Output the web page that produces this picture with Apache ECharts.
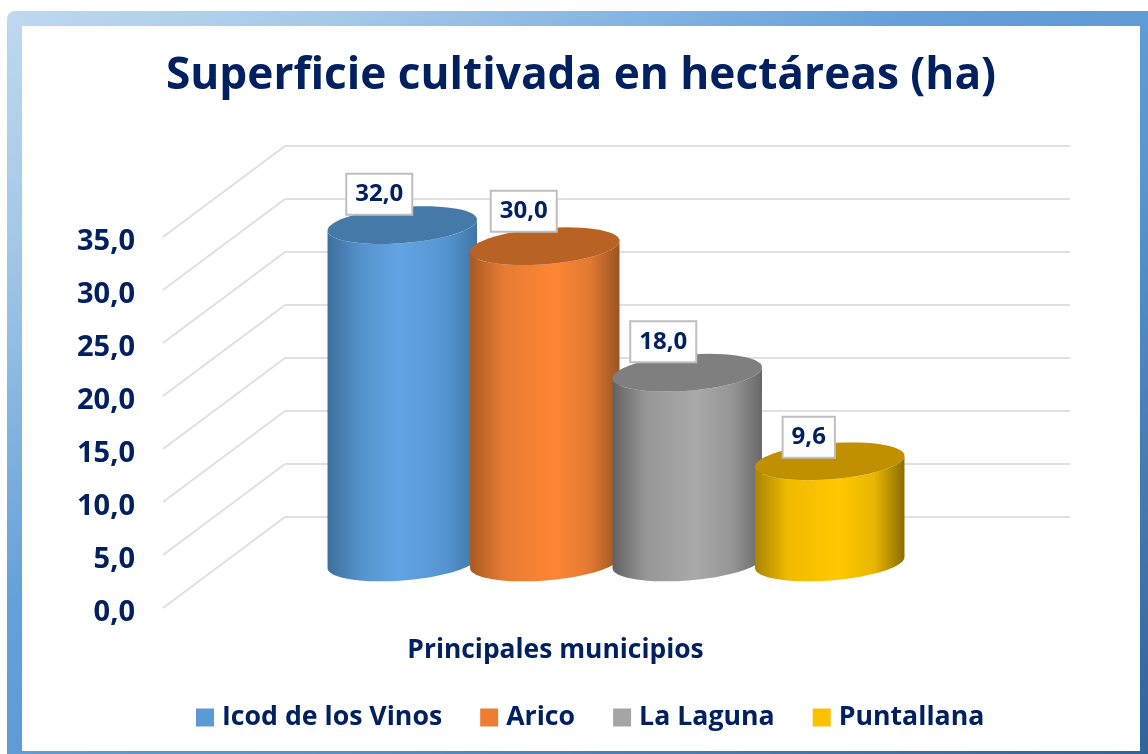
<!DOCTYPE html>
<html>
<head>
<meta charset="utf-8">
<title>Superficie cultivada en hectáreas (ha)</title>
<style>
  html, body { margin: 0; padding: 0; background: #fff; }
  #chart { width: 1148px; height: 754px; }
</style>
<script src="https://cdn.jsdelivr.net/npm/echarts@6/dist/echarts.min.js"></script>
</head>
<body>
<div id="chart"></div>
<script>
var municipios = ["Icod de los Vinos", "Arico", "La Laguna", "Puntallana"];
var superficie = [32.0, 30.0, 18.0, 9.6];
var ticks = [0, 5, 10, 15, 20, 25, 30, 35];

var sideColors = [
  ["#3e6f9b", "#5592cc", "#62a5e5", "#5594d0", "#3f75a5"],
  ["#a85a22", "#e57b33", "#ff8535", "#e27a32", "#9a5422"],
  ["#626262", "#969696", "#a9a9a9", "#959595", "#686868"],
  ["#a98400", "#f0bb00", "#ffc800", "#e9b600", "#8a6c00"]
];
var capColors = ["#457aa8", "#b86224", "#7f7f7f", "#c09000"];
var legendColors = ["#5b9bd5", "#ed7d31", "#a5a5a5", "#ffc000"];
var labelShiftX = [-23, -21, -24, -21];
var labelShiftY = [-31, -35, -31, -24];

var navy = "#002060";
var fontFamily = "'Open Sans', sans-serif";
// depth of the floor, from the back wall to the front edge
var depthX = -122;
var depthY = 91;
var tilt = 0.078;

function fmt(v) {
  return v.toFixed(1).replace(".", ",");
}

// points on a tilted ellipse, angles in radians
function arc(cx, cy, a, b, from, to) {
  var pts = [];
  for (var i = 0; i <= 60; i++) {
    var t = from + (to - from) * i / 60;
    var x = a * Math.cos(t);
    var y = b * Math.sin(t);
    pts.push([
      cx + x * Math.cos(tilt) + y * Math.sin(tilt),
      cy - x * Math.sin(tilt) + y * Math.cos(tilt)
    ]);
  }
  return pts;
}

function cylinder(idx) {
  return function(params, api) {
    var top = api.coord([api.value(0), api.value(1)]);
    var base = api.coord([api.value(0), 0]);
    var a = api.size([1, 0])[0] * 0.526;
    var b = 18;
    var c = sideColors[idx];
    var body = arc(base[0], base[1], a, b, Math.PI, 0)
      .concat(arc(top[0], top[1], a, b, 0, Math.PI));
    return {
      type: "group",
      children: [
        {
          type: "polygon",
          shape: { points: body },
          style: {
            fill: new echarts.graphic.LinearGradient(0, 0, 1, 0, [
              { offset: 0, color: c[0] },
              { offset: 0.22, color: c[1] },
              { offset: idx === 0 ? 0.48 : 0.56, color: c[2] },
              { offset: 0.8, color: c[3] },
              { offset: 1, color: c[4] }
            ])
          }
        },
        {
          type: "polygon",
          shape: { points: arc(top[0], top[1], a, b, 0, Math.PI * 2) },
          style: { fill: capColors[idx] }
        },
        {
          type: "text",
          x: top[0] + labelShiftX[idx],
          y: top[1] + labelShiftY[idx],
          style: {
            text: fmt(api.value(1)),
            font: "bold 24px " + fontFamily,
            fill: navy,
            align: "center",
            verticalAlign: "middle",
            backgroundColor: "#fff",
            borderColor: "#bfbfbf",
            borderWidth: 2,
            padding: [8, 8, 7, 8]
          }
        }
      ]
    };
  };
}

var series = [
  {
    type: "custom",
    name: "pared",
    xAxisIndex: 0,
    yAxisIndex: 0,
    silent: true,
    clip: false,
    data: ticks.map(function(t) { return [0, t]; }),
    renderItem: function(params, api) {
      var p = api.coord([api.value(0), api.value(1)]);
      return {
        type: "line",
        shape: { x1: p[0], y1: p[1], x2: p[0] + depthX, y2: p[1] + depthY },
        style: { stroke: "#e0e0e0", lineWidth: 2 }
      };
    }
  }
];

municipios.forEach(function(name, i) {
  series.push({
    type: "custom",
    name: name,
    xAxisIndex: 2,
    yAxisIndex: 2,
    clip: false,
    z: 3 + i,
    itemStyle: { color: legendColors[i] },
    data: [[i, superficie[i]]],
    renderItem: cylinder(i)
  });
});

var chart = echarts.init(document.getElementById("chart"));
chart.setOption({
  animation: false,
  backgroundColor: "#fff",
  textStyle: { fontFamily: fontFamily },
  graphic: [
    {
      type: "rect",
      z: -10,
      silent: true,
      shape: { x: 7, y: 11, width: 1141, height: 743, r: [8, 0, 0, 0] },
      style: {
        fill: new echarts.graphic.LinearGradient(0, 0, 0.596, 1.405, [
          { offset: 0, color: "#bfd8f1" },
          { offset: 0.15, color: "#a5c9e8" },
          { offset: 0.4, color: "#65a0da" },
          { offset: 0.6, color: "#5a96d0" },
          { offset: 1, color: "#2f6499" }
        ])
      }
    },
    {
      type: "rect",
      z: -9,
      silent: true,
      shape: { x: 22, y: 26, width: 1118, height: 725 },
      style: { fill: "#fff" }
    }
  ],
  title: {
    text: "Superficie cultivada en hectáreas (ha)",
    left: 576,
    top: 49,
    textAlign: "center",
    textStyle: { color: navy, fontFamily: fontFamily, fontWeight: "bold", fontSize: 44.2 }
  },
  legend: {
    left: 191,
    top: 699,
    itemWidth: 18,
    itemHeight: 18,
    itemGap: 38,
    icon: "rect",
    selectedMode: false,
    data: municipios,
    textStyle: {
      color: navy,
      fontFamily: fontFamily,
      fontWeight: "bold",
      fontSize: 26.7,
      padding: [0, 0, 0, 3]
    }
  },
  grid: [
    { left: 285, top: 146, width: 785, height: 371 },
    { left: 163, top: 242, width: 785, height: 371 },
    { left: 331, top: 193.5, width: 570, height: 369 }
  ],
  xAxis: [
    { gridIndex: 0, type: "value", show: false, min: 0, max: 1 },
    {
      gridIndex: 1,
      type: "value",
      min: 0,
      max: 1,
      name: "Principales municipios",
      nameLocation: "middle",
      nameGap: 24,
      nameTextStyle: { color: navy, fontFamily: fontFamily, fontWeight: "bold", fontSize: 26.4 },
      axisLine: { show: false },
      axisTick: { show: false },
      axisLabel: { show: false },
      splitLine: { show: false }
    },
    { gridIndex: 2, type: "category", show: false, data: municipios }
  ],
  yAxis: [
    {
      gridIndex: 0,
      type: "value",
      min: 0,
      max: 35,
      interval: 5,
      axisLine: { show: false },
      axisTick: { show: false },
      axisLabel: { show: false },
      splitLine: { lineStyle: { color: "#e0e0e0", width: 2 } }
    },
    {
      gridIndex: 1,
      type: "value",
      min: 0,
      max: 35,
      interval: 5,
      axisLine: { show: false },
      axisTick: { show: false },
      splitLine: { show: false },
      axisLabel: {
        margin: 28,
        color: navy,
        fontFamily: fontFamily,
        fontWeight: "bold",
        fontSize: 29,
        padding: [6, 0, 0, 0],
        formatter: fmt
      }
    },
    { gridIndex: 2, type: "value", show: false, min: 0, max: 35, interval: 5 }
  ],
  series: series
});
</script>
</body>
</html>
